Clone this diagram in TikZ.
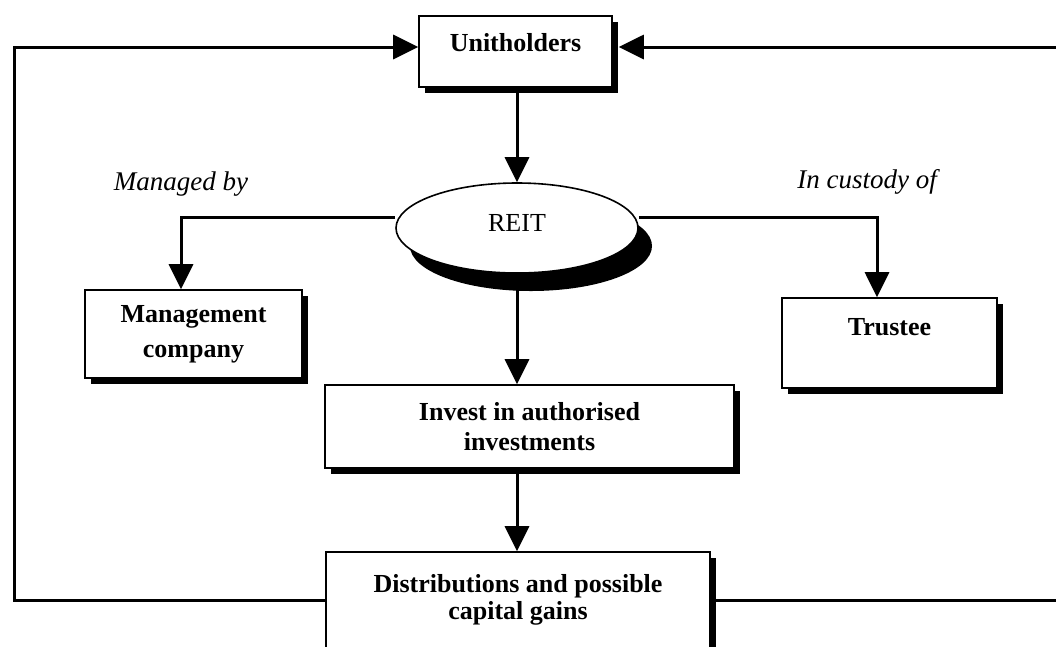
\documentclass[tikz,border=0pt]{standalone}
\usepackage{fontspec}
\setmainfont{Liberation Serif}
\usetikzlibrary{arrows.meta,shadows,backgrounds,shapes.geometric}
\begin{document}
\begin{tikzpicture}[x=1pt,y=-1pt,
  boxtext/.style={font=\fontsize{26}{30}\selectfont\bfseries, align=center},
  box/.style={draw, line width=1.6pt, fill=white, rectangle, inner sep=0pt, boxtext,
    general shadow={fill=black, shadow xshift=6pt, shadow yshift=-6pt}},
  conn/.style={line width=3pt},
  arr/.style={conn, -{Triangle[length=25pt,width=24pt]}},
  note/.style={font=\fontsize{27}{30}\selectfont\itshape, anchor=base}]
\useasboundingbox (0,0) rectangle (1056,646);

\node[box, minimum width=193pt, minimum height=71pt,
  label={[boxtext, yshift=8.5pt]center:Unitholders}] (unit) at (515.5,51.5) {};
\node[ellipse, draw, line width=1.6pt, fill=white, minimum width=242pt, minimum height=90pt,
  inner sep=0pt, general shadow={fill=black, shadow xshift=14pt, shadow yshift=-18pt},
  label={[font=\fontsize{26}{30}\selectfont, yshift=5pt]center:REIT}] (reit) at (517,228) {};
\node[box, minimum width=217pt, minimum height=88pt, font=\fontsize{26}{35}\selectfont\bfseries,
  yshift=0pt] (mgmt) at (193.5,334) {Management\\company};
\node[box, minimum width=215pt, minimum height=90pt,
  label={[boxtext, yshift=16pt]center:Trustee}] (trustee) at (889.5,343) {};
\node[box, minimum width=409pt, minimum height=83pt] (invest) at (529.5,426.5) {Invest in authorised\\investments};
\node[box, minimum width=384pt, minimum height=96pt, font=\fontsize{26}{27}\selectfont\bfseries] (dist) at (518,600) {Distributions and possible\\capital gains};

\node[note] (managed) at (181,190) {Managed by};
\node[note] (custody) at (867,188) {In custody of};

\coordinate (lbot) at (14,600);
\coordinate (rtop) at (1056,47);
\coordinate (rbot) at (1056,600);

\begin{scope}[on background layer]
\draw[arr] (dist.west) -- (lbot) |- ([yshift=4.5pt]unit.west);
\draw[arr] (rtop) -- ([xshift=6pt,yshift=4.5pt]unit.east);
\draw[conn] (dist.east) -- (rbot);
\draw[arr] (reit.north |- unit.south) -- (reit.north);
\draw[arr] ([yshift=11pt]reit.west) -| ([xshift=-12.5pt]mgmt.north);
\draw[arr] ([yshift=11pt]reit.east) -| ([xshift=-12.5pt]trustee.north);
\draw[arr] (reit.south) -- (reit.south |- invest.north);
\draw[arr] (reit.south |- invest.south) -- (reit.south |- dist.north);
\end{scope}
\end{tikzpicture}
\end{document}
